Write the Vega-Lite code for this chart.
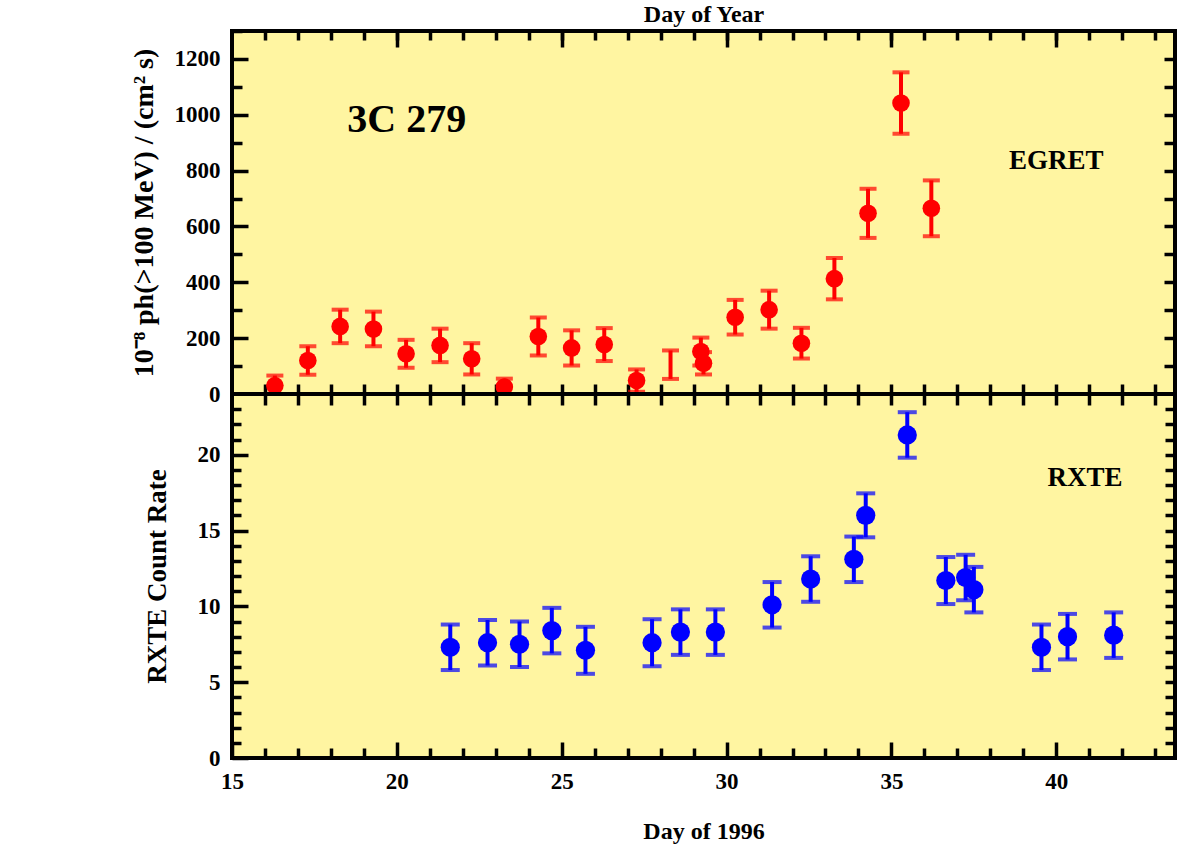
{
  "$schema": "https://vega.github.io/schema/vega-lite/v6.json",
  "background": "white",
  "padding": {"left": 128, "top": 0, "right": 17, "bottom": 10},
  "spacing": 0,
  "bounds": "flush",
  "config": {
    "view": {"fill": "#fff5a1", "stroke": "black", "strokeWidth": 4},
    "axis": {
      "labelFont": "Liberation Serif", "labelFontWeight": "bold", "labelFontSize": 23, "labelColor": "black",
      "titleFont": "Liberation Serif", "titleFontWeight": "bold", "titleFontSize": 24, "titleColor": "black",
      "domain": false, "grid": false, "tickColor": "black", "tickWidth": 3.5, "labelFlush": false, "labelOverlap": false, "labelPadding": 8,
      "minExtent": 0
    }
  },
  "datasets": {
    "egret": [
      {"day": 16.3, "flux": 30, "err": 36, "dot": true},
      {"day": 17.3, "flux": 120, "err": 51, "dot": true},
      {"day": 18.28, "flux": 242, "err": 60, "dot": true},
      {"day": 19.29, "flux": 233, "err": 62, "dot": true},
      {"day": 20.28, "flux": 144, "err": 50, "dot": true},
      {"day": 21.31, "flux": 174, "err": 60, "dot": true},
      {"day": 22.27, "flux": 126, "err": 56, "dot": true},
      {"day": 23.26, "flux": 25, "err": 30, "dot": true},
      {"day": 24.29, "flux": 206, "err": 68, "dot": true},
      {"day": 25.3, "flux": 165, "err": 63, "dot": true},
      {"day": 26.29, "flux": 177, "err": 59, "dot": true},
      {"day": 27.27, "flux": 48, "err": 40, "dot": true},
      {"day": 28.3, "flux": 105, "err": 51, "dot": false},
      {"day": 29.22, "flux": 152, "err": 50, "dot": true},
      {"day": 29.3, "flux": 110, "err": 40, "dot": true},
      {"day": 30.26, "flux": 275, "err": 62, "dot": true},
      {"day": 31.29, "flux": 302, "err": 68, "dot": true},
      {"day": 32.27, "flux": 182, "err": 55, "dot": true},
      {"day": 33.27, "flux": 413, "err": 74, "dot": true},
      {"day": 34.29, "flux": 647, "err": 88, "dot": true},
      {"day": 35.29, "flux": 1042, "err": 110, "dot": true},
      {"day": 36.21, "flux": 665, "err": 100, "dot": true}
    ],
    "rxte": [
      {"day": 21.62, "rate": 7.3, "err": 1.5},
      {"day": 22.75, "rate": 7.6, "err": 1.5},
      {"day": 23.72, "rate": 7.5, "err": 1.5},
      {"day": 24.7, "rate": 8.4, "err": 1.5},
      {"day": 25.72, "rate": 7.1, "err": 1.55},
      {"day": 27.74, "rate": 7.6, "err": 1.55},
      {"day": 28.6, "rate": 8.3, "err": 1.5},
      {"day": 29.66, "rate": 8.3, "err": 1.5},
      {"day": 31.38, "rate": 10.1, "err": 1.5},
      {"day": 32.55, "rate": 11.8, "err": 1.5},
      {"day": 33.86, "rate": 13.1, "err": 1.5},
      {"day": 34.22, "rate": 16.0, "err": 1.45},
      {"day": 35.48, "rate": 21.3, "err": 1.5},
      {"day": 36.65, "rate": 11.7, "err": 1.55},
      {"day": 37.25, "rate": 11.9, "err": 1.5},
      {"day": 37.5, "rate": 11.1, "err": 1.5},
      {"day": 39.55, "rate": 7.3, "err": 1.5},
      {"day": 40.34, "rate": 8.0, "err": 1.5},
      {"day": 41.74, "rate": 8.1, "err": 1.5}
    ],
    "toplabels": [
      {"x": 20.3, "y": 981, "label": "3C 279", "size": "big"},
      {"x": 40.0, "y": 834, "label": "EGRET", "size": "small"}
    ],
    "bottomlabels": [
      {"x": 40.87, "y": 18.43, "label": "RXTE"}
    ]
  },
  "vconcat": [
    {
      "width": 943,
      "height": 363,
      "layer": [
        {
          "data": {"name": "egret"},
          "mark": {"type": "errorbar", "color": "#ff0000", "thickness": 4, "ticks": {"size": 17, "thickness": 4}, "clip": true},
          "encoding": {
            "x": {"field": "day", "type": "quantitative", "scale": {"domain": [15, 43.6], "nice": false, "zero": false},
                  "axis": {"orient": "top", "values": [16,17,18,19,20,21,22,23,24,25,26,27,28,29,30,31,32,33,34,35,36,37,38,39,40,41,42,43], "tickSize": -9, "labels": false, "title": null}},
            "y": {"field": "flux", "type": "quantitative", "scale": {"domain": [0, 1300], "nice": false},
                  "axis": {"orient": "left", "values": [0,200,400,600,800,1000,1200], "format": "d", "tickSize": -16, "labelPadding": 28, "title": "10⁻⁸ ph(>100 MeV) / (cm² s)", "titleFontSize": 28, "titlePadding": 16}},
            "yError": {"field": "err"}
          }
        },
        {
          "data": {"name": "egret"},
          "transform": [{"filter": "datum.dot"}],
          "mark": {"type": "circle", "color": "#ff0000", "opacity": 1, "size": 310, "clip": true},
          "encoding": {
            "x": {"field": "day", "type": "quantitative", "scale": {"domain": [15, 43.6], "nice": false, "zero": false},
                  "axis": {"orient": "top", "values": [20,25,30,35,40], "tickSize": -16, "labels": false, "title": "Day of Year", "titlePadding": 3}},
            "y": {"field": "flux", "type": "quantitative", "scale": {"domain": [0, 1300], "nice": false},
                  "axis": {"orient": "left", "values": [100,300,500,700,900,1100,1300], "tickSize": -10, "labels": false, "title": null}}
          }
        },
        {
          "data": {"name": "toplabels"},
          "mark": {"type": "text", "font": "Liberation Serif", "fontWeight": "bold", "color": "black", "align": "center", "baseline": "middle"},
          "encoding": {
            "x": {"field": "x", "type": "quantitative", "scale": {"domain": [15, 43.6], "nice": false, "zero": false},
                  "axis": {"orient": "bottom", "values": [16,17,18,19,20,21,22,23,24,25,26,27,28,29,30,31,32,33,34,35,36,37,38,39,40,41,42,43], "tickSize": -10, "labels": false, "title": null}},
            "y": {"field": "y", "type": "quantitative", "scale": {"domain": [0, 1300], "nice": false},
                  "axis": {"orient": "right", "values": [100,200,300,400,500,600,700,800,900,1000,1100,1200], "tickSize": -11, "labels": false, "title": null}},
            "text": {"field": "label"},
            "size": {"field": "size", "type": "nominal", "scale": {"domain": ["big", "small"], "range": [40, 27]}, "legend": null}
          }
        }
      ],
      "resolve": {"axis": {"x": "independent", "y": "independent"}}
    },
    {
      "width": 943,
      "height": 364,
      "layer": [
        {
          "data": {"name": "rxte"},
          "mark": {"type": "errorbar", "color": "#0000ff", "thickness": 4, "ticks": {"size": 19, "thickness": 4}, "clip": true},
          "encoding": {
            "x": {"field": "day", "type": "quantitative", "scale": {"domain": [15, 43.6], "nice": false, "zero": false},
                  "axis": {"orient": "bottom", "values": [15,20,25,30,35,40], "tickSize": -16, "labelPadding": 28, "title": "Day of 1996", "titlePadding": 26}},
            "y": {"field": "rate", "type": "quantitative", "scale": {"domain": [0, 24], "nice": false},
                  "axis": {"orient": "left", "values": [0,5,10,15,20], "tickSize": -16, "labelPadding": 28, "title": "RXTE Count Rate", "titleFontSize": 27, "titlePadding": 26}},
            "yError": {"field": "err"}
          }
        },
        {
          "data": {"name": "rxte"},
          "mark": {"type": "circle", "color": "#0000ff", "opacity": 1, "size": 370, "clip": true},
          "encoding": {
            "x": {"field": "day", "type": "quantitative", "scale": {"domain": [15, 43.6], "nice": false, "zero": false},
                  "axis": {"orient": "bottom", "values": [16,17,18,19,21,22,23,24,26,27,28,29,31,32,33,34,36,37,38,39,41,42,43], "tickSize": -10, "labels": false, "title": null}},
            "y": {"field": "rate", "type": "quantitative", "scale": {"domain": [0, 24], "nice": false},
                  "axis": {"orient": "left", "values": [1,2,3,4,6,7,8,9,11,12,13,14,16,17,18,19,21,22,23], "tickSize": -9, "labels": false, "title": null}}
          }
        },
        {
          "data": {"name": "bottomlabels"},
          "mark": {"type": "text", "font": "Liberation Serif", "fontWeight": "bold", "fontSize": 27, "color": "black", "align": "center", "baseline": "middle"},
          "encoding": {
            "x": {"field": "x", "type": "quantitative", "scale": {"domain": [15, 43.6], "nice": false, "zero": false},
                  "axis": {"orient": "top", "values": [16,17,18,19,20,21,22,23,24,25,26,27,28,29,30,31,32,33,34,35,36,37,38,39,40,41,42,43], "tickSize": -11, "labels": false, "title": null}},
            "y": {"field": "y", "type": "quantitative", "scale": {"domain": [0, 24], "nice": false},
                  "axis": {"orient": "right", "values": [1,2,3,4,5,6,7,8,9,10,11,12,13,14,15,16,17,18,19,20,21,22,23], "tickSize": -10, "labels": false, "title": null}},
            "text": {"field": "label"}
          }
        }
      ],
      "resolve": {"axis": {"x": "independent", "y": "independent"}}
    }
  ]
}
